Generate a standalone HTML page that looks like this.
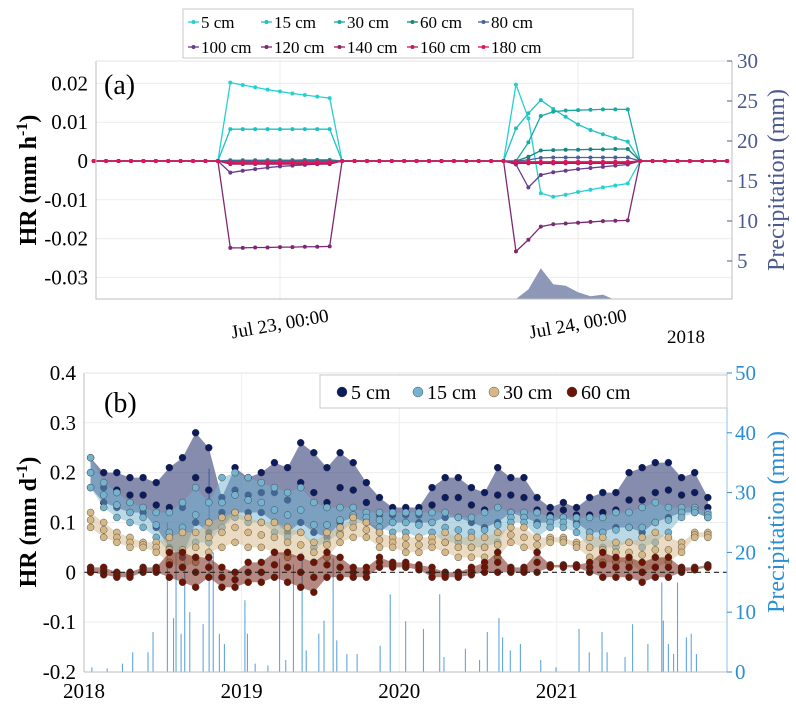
<!DOCTYPE html>
<html><head><meta charset="utf-8"><style>
body{margin:0;background:#fff}
svg{display:block;font-family:"Liberation Serif",serif}
</style></head><body>
<svg id="chart" width="796" height="707" viewBox="0 0 796 707" xmlns="http://www.w3.org/2000/svg">
<g id="topPanel"></g>
<g id="botPanel"></g>
</svg>
<script>
// ---------- Panel (a) data ----------
const depthsA = ["5 cm","15 cm","30 cm","60 cm","80 cm","100 cm","120 cm","140 cm","160 cm","180 cm"];
const colorsA = ["#27d0d0","#1fc0c0","#1aa8a2","#17847f","#4d5f98","#6b3a8c","#7c2872","#992060","#c21a5e","#e0145a"];
const ev1Hours = [20,21,22,23,24,25,26,27,28];
const ev2Hours = [43,44,45,46,47,48,49,50,51,52];
const ev1 = [
 [.0202,.0196,.0190,.0184,.0179,.0174,.0170,.0166,.0162],
 [.0082,.0082,.0082,.0082,.0082,.0082,.0082,.0082,.0082],
 [.0001,.0001,.0001,.0002,.0002,.0002,.0003,.0003,.0003],
 [.0002,.0002,.0002,.0002,.0002,.0002,.0002,.0002,.0002],
 [0,0,0,0,0,0,0,0,0],
 [-.0030,-.0025,-.0021,-.0017,-.0014,-.0012,-.0010,-.0008,-.0007],
 [-.0224,-.0224,-.0223,-.0223,-.0222,-.0222,-.0221,-.0221,-.0220],
 [-.0008,-.0008,-.0008,-.0008,-.0008,-.0008,-.0008,-.0008,-.0008],
 [-.0006,-.0006,-.0006,-.0006,-.0006,-.0006,-.0006,-.0006,-.0006],
 [-.0003,-.0003,-.0003,-.0003,-.0003,-.0003,-.0003,-.0003,-.0003]
];
const ev2 = [
 [.0197,.0110,-.0083,-.0092,-.0087,-.0080,-.0074,-.0068,-.0063,-.0058],
 [.0084,.0123,.0157,.0134,.0114,.0094,.0080,.0069,.0059,.0050],
 [0,.0048,.0116,.0127,.0130,.0131,.0132,.0133,.0133,.0133],
 [0,.0011,.0027,.0028,.0029,.0029,.0030,.0030,.0031,.0031],
 [0,.0003,.0008,.0009,.0009,.0009,.0009,.0009,.0009,.0009],
 [-.0009,-.0068,-.0036,-.0029,-.0025,-.0021,-.0018,-.0015,-.0012,-.0009],
 [-.0233,-.0203,-.0169,-.0163,-.0161,-.0159,-.0157,-.0155,-.0154,-.0153],
 [-.0006,-.0006,-.0006,-.0006,-.0006,-.0006,-.0006,-.0006,-.0006,-.0006],
 [-.0004,-.0004,-.0004,-.0004,-.0004,-.0004,-.0004,-.0004,-.0004,-.0004],
 [-.0002,-.0002,-.0002,-.0002,-.0002,-.0002,-.0002,-.0002,-.0002,-.0002]
];
const precipAHours = [43,44,45,46,47,48,49,50,50.8];
const precipAVals = [0,1.45,4.1,2.1,1.9,1.1,0.6,0.8,0];
const yTicksA = [0.02,0.01,0,-0.01,-0.02,-0.03];
const yTickLabelsA = ["0.02","0.01","0","-0.01","-0.02","-0.03"];
const rTicksA = [30,25,20,15,10,5];
const xTicksA = [24,48];
const xTickLabelsA = ["Jul 23, 00:00","Jul 24, 00:00"];

// ---------- Panel (b) data (monthly hi / lo, Jan 2018 - Dec 2021) ----------
const depthsB = ["5 cm","15 cm","30 cm","60 cm"];
const colorsB = ["#0c1a5e","#74b3d0","#d6b886","#6b1406"];
const hi5 = [.23,.20,.20,.19,.19,.18,.21,.23,.28,.25,.15,.21, .19,.20,.22,.21,.26,.24,.21,.24,.22,.18,.15,.13, .13,.13,.17,.19,.19,.17,.16,.21,.19,.19,.15,.13, .14,.13,.15,.16,.16,.20,.21,.22,.22,.19,.20,.15];
const lo5 = [.17,.14,.13,.12,.12,.09,.05,.03,.10,.08,.09,.12, .12,.12,.10,.08,.10,.08,.07,.10,.11,.10,.08,.10, .10,.10,.10,.11,.11,.10,.09,.10,.12,.11,.10,.10, .11,.10,.08,.08,.09,.09,.08,.10,.11,.12,.12,.11];
const hi15 = [.23,.18,.16,.14,.13,.12,.12,.14,.17,.14,.19,.20, .19,.18,.17,.16,.17,.14,.13,.13,.13,.12,.12,.12, .12,.12,.12,.12,.11,.11,.12,.13,.12,.12,.12,.11, .11,.11,.11,.11,.12,.12,.13,.14,.13,.13,.13,.12];
const lo15 = [.17,.13,.11,.10,.09,.07,.04,.04,.06,.06,.09,.11, .10,.10,.08,.07,.08,.05,.06,.08,.10,.10,.09,.08, .08,.07,.08,.06,.06,.05,.05,.06,.10,.10,.07,.09, .09,.08,.05,.05,.05,.06,.05,.06,.08,.11,.12,.11];
const hi30 = [.12,.10,.08,.07,.06,.06,.07,.08,.08,.10,.11,.12, .11,.10,.10,.09,.08,.06,.08,.09,.11,.10,.08,.07, .07,.07,.07,.08,.07,.07,.07,.08,.09,.09,.07,.07, .07,.06,.07,.07,.06,.06,.07,.08,.07,.06,.08,.08];
const lo30 = [.09,.07,.06,.05,.05,.04,.02,.01,.02,.04,.05,.06, .05,.05,.04,.03,.03,.02,.03,.06,.07,.07,.05,.05, .04,.04,.05,.04,.03,.03,.03,.03,.06,.05,.04,.06, .06,.05,.03,.02,.02,.02,.00,.01,.02,.04,.07,.07];
const hi60 = [.01,.01,.00,.00,.01,.01,.04,.04,.03,.03,.01,.00, .02,.02,.04,.04,.03,.02,.04,.03,.01,.01,.03,.02, .02,.015,.01,.00,.00,.01,.02,.04,.01,.01,.04,.015, .015,.015,.02,.04,.03,.03,.02,.03,.03,.01,.01,.015];
const lo60 = [.00,-.005,-.01,-.01,.00,.00,-.01,-.02,-.03,-.01,-.03,-.03, -.02,-.02,-.01,-.02,-.03,-.04,-.01,-.01,-.01,-.01,.01,.01, .01,.005,-.01,-.01,-.01,-.005,.00,.00,.00,.00,.00,.01, .01,.01,.00,-.01,-.01,-.01,-.02,-.01,-.01,.00,.005,.01];
const precipBDates = [2018.529,2018.584,2018.639,2018.794,2018.820,2019.241,2019.329,2019.384,2019.581,2021.666,2021.766,2019.943,2020.257,2020.633,2019.021,2018.438,2019.523,2018.859,2019.037,2021.141,2021.287,2021.481,2021.853,2020.041,2020.154,2018.309,2018.406,2019.733,2019.879,2020.420,2021.578,2020.769,2020.559,2021.206,2021.319,2021.433,2018.568,2018.616,2018.671,2018.756,2018.891,2019.490,2019.604,2019.668,2020.898,2020.995,2018.147,2018.050,2018.244,2019.086,2019.167,2019.280,2019.410,2020.284,2020.510,2020.656,2020.705,2021.676,2021.708,2021.741,2021.822,2021.886];
const precipBVals = [25,20,21,34,20,19,18,20,19,15,15,13,13,9,12,6.7,8.6,6.4,6.4,7.2,6.7,8,6.4,8.5,7.2,3.3,3.3,3,4.4,3.9,4.7,4.7,6.7,3.3,3.3,2.5,9,6.4,10,8,4.7,6.4,5.3,3,2,0.8,0.6,0.8,1.4,1.4,1.1,2,3.6,2.5,2,5.8,3.6,8.6,4.7,3,5.8,3];
const yTicksB = [0.4,0.3,0.2,0.1,0,-0.1,-0.2];
const yTickLabelsB = ["0.4","0.3","0.2","0.1","0","-0.1","-0.2"];
const rTicksB = [50,40,30,20,10,0];
const xTicksB = [2018,2019,2020,2021];

const SVGNS="http://www.w3.org/2000/svg";
function mk(parent,tag,attrs,text){const e=document.createElementNS(SVGNS,tag);for(const k in attrs)e.setAttribute(k,attrs[k]);if(text!==undefined)e.textContent=text;parent.appendChild(e);return e;}

// ---------- Panel (a) ----------
const A={L:96,R:732,T:61,B:299};
const xA=h=>280+(h-24)*12.42;
const yA=v=>161-v*3880;
const pA=p=>301-p*8;
const topG=document.getElementById('topPanel');
yTicksA.forEach(v=>{const g=mk(topG,'line',{x1:A.L,x2:A.R,y1:yA(v),y2:yA(v),stroke:'#ececec','stroke-width':1});

});
xTicksA.forEach(h=>{const g=mk(topG,'line',{x1:xA(h),x2:xA(h),y1:A.T,y2:A.B,stroke:'#ececec','stroke-width':1});

});
let pd='M'+xA(precipAHours[0])+','+pA(0);
precipAHours.forEach((h,i)=>{pd+=' L'+xA(h)+','+Math.min(pA(precipAVals[i]),A.B);});
pd+=' L'+xA(precipAHours[precipAHours.length-1])+','+A.B+' L'+xA(precipAHours[0])+','+A.B+'Z';
const pa=mk(topG,'path',{d:pd,fill:'#8d98b8',stroke:'none'});


const hoursAll=[];for(let h=9;h<=60;h++)hoursAll.push(h);
depthsA.forEach((d,si)=>{
  const vals=hoursAll.map(h=>{let i=ev1Hours.indexOf(h);if(i>=0)return ev1[si][i];i=ev2Hours.indexOf(h);if(i>=0)return ev2[si][i];return 0;});
  const g=mk(topG,'g',{});
  
  
  mk(g,'polyline',{points:hoursAll.map((h,i)=>xA(h)+','+yA(vals[i])).join(' '),fill:'none',stroke:colorsA[si],'stroke-width':1.3});
  hoursAll.forEach((h,i)=>{const c=mk(g,'circle',{cx:xA(h),cy:yA(vals[i]),r:2,fill:colorsA[si]});
  
  });
});
mk(topG,'path',{d:`M${A.L},${A.T} V${A.B} H${A.R} V${A.T}`,fill:'none',stroke:'#bdbdbd','stroke-width':1});
mk(topG,'line',{x1:A.L,x2:A.R,y1:A.T,y2:A.T,stroke:'#e4e4e4'});
yTicksA.forEach((v,i)=>{const t=mk(topG,'text',{x:88,y:yA(v)+7,'text-anchor':'end','font-size':21,fill:'#000'},yTickLabelsA[i]);

});
rTicksA.forEach(v=>{const t=mk(topG,'text',{x:737,y:pA(v)+7,'font-size':21,fill:'#4b5a8f'},String(v));


mk(topG,'line',{x1:A.R-5,x2:A.R,y1:pA(v),y2:pA(v),stroke:'#4b5a8f'});});
xTicksA.forEach((h,i)=>{const t=mk(topG,'text',{x:xA(h),y:330,'text-anchor':'middle','font-size':19,fill:'#000',transform:`rotate(-10 ${xA(h)} 325)`},xTickLabelsA[i]);

});

let e=mk(topG,'text',{x:686,y:343,'text-anchor':'middle','font-size':19},'2018');


e=mk(topG,'text',{x:104,y:94,'font-size':28},'(a)');


e=mk(topG,'text',{x:0,y:0,'font-size':24,'font-weight':'bold',transform:'translate(36 180) rotate(-90)','text-anchor':'middle'});
e.innerHTML='HR (mm h<tspan dy="-9" font-size="16">-1</tspan><tspan dy="9">)</tspan>';


e=mk(topG,'text',{x:0,y:0,'font-size':24,fill:'#4b5a8f',transform:'translate(784 180) rotate(-90)','text-anchor':'middle'},'Precipitation (mm)');


const lgA=mk(topG,'g',{});


mk(lgA,'rect',{x:183,y:9,width:450,height:49,fill:'#fff',stroke:'#c8c8c8'});
const lxA=[188,261,334,407,478];
depthsA.forEach((d,i)=>{const x=lxA[i%5],y=i<5?22:47;
const g=mk(lgA,'g',{});


mk(g,'line',{x1:x,x2:x+11,y1:y,y2:y,stroke:colorsA[i],'stroke-width':1.3});
mk(g,'circle',{cx:x+5.5,cy:y,r:2,fill:colorsA[i]});
mk(g,'text',{x:x+13,y:y+6,'font-size':17},d);});

// ---------- Panel (b) ----------
const Bx={L:84,R:727,T:373,B:672};
const xB=t=>84+(t-2018)*157.6;
const yB=v=>572.3-v*498.3;
const pB=p=>672-p*5.98;
const botG=document.getElementById('botPanel');
yTicksB.forEach(v=>{const g=mk(botG,'line',{x1:Bx.L,x2:Bx.R,y1:yB(v),y2:yB(v),stroke:'#eeeeee'});

});
xTicksB.forEach(t=>{const g=mk(botG,'line',{x1:xB(t),x2:xB(t),y1:Bx.T,y2:Bx.B,stroke:'#eeeeee'});

});
const pg=mk(botG,'g',{});


precipBDates.forEach((t,i)=>{const l=mk(pg,'line',{x1:xB(t),x2:xB(t),y1:pB(0),y2:pB(precipBVals[i]),stroke:'#3a8fd6','stroke-width':1.1,opacity:0.8});

});
const his=[hi5,hi15,hi30,hi60], los=[lo5,lo15,lo30,lo60];
depthsB.forEach((d,si)=>{
  const g=mk(botG,'g',{});
  
  
  const hi=his[si],lo=los[si];
  const ts=hi.map((_,m)=>2018+(m+0.5)/12);
  let dd='M'+ts.map((t,m)=>xB(t)+','+yB(hi[m])).join(' L');
  dd+=' L'+ts.slice().reverse().map((t,k)=>{const m=hi.length-1-k;return xB(t)+','+yB(lo[m]);}).join(' L')+'Z';
  mk(g,'path',{d:dd,fill:colorsB[si],opacity:0.5});
  ts.forEach((t,m)=>{[hi[m],(hi[m]+lo[m])/2,lo[m]].forEach(v=>{
    const c=mk(g,'circle',{cx:xB(t),cy:yB(v),r:3.5,fill:colorsB[si],stroke:'#333','stroke-width':0.4});
    
    });});
});
mk(botG,'line',{x1:Bx.L,x2:Bx.R,y1:yB(0),y2:yB(0),stroke:'#222','stroke-width':1.2,'stroke-dasharray':'5,4'});
mk(botG,'line',{x1:Bx.L,x2:Bx.L,y1:Bx.T,y2:Bx.B,stroke:'#bdbdbd'});
mk(botG,'line',{x1:Bx.L,x2:Bx.R,y1:Bx.B,y2:Bx.B,stroke:'#bdbdbd'});
mk(botG,'line',{x1:Bx.R,x2:Bx.R,y1:Bx.T,y2:Bx.B,stroke:'#8fc2ea'});
mk(botG,'line',{x1:Bx.L,x2:Bx.R,y1:Bx.T,y2:Bx.T,stroke:'#e4e4e4'});
yTicksB.forEach((v,i)=>{const t=mk(botG,'text',{x:76,y:yB(v)+7,'text-anchor':'end','font-size':21},yTickLabelsB[i]);

});
rTicksB.forEach(v=>{const t=mk(botG,'text',{x:735,y:pB(v)+7,'font-size':21,fill:'#2b8fd4'},String(v));


mk(botG,'line',{x1:Bx.R,x2:Bx.R+5,y1:pB(v),y2:pB(v),stroke:'#2b8fd4'});});
xTicksB.forEach(t=>{const el=mk(botG,'text',{x:xB(t),y:698,'text-anchor':'middle','font-size':21},String(t));

});
e=mk(botG,'text',{x:104,y:412,'font-size':28},'(b)');


e=mk(botG,'text',{x:0,y:0,'font-size':24,'font-weight':'bold',transform:'translate(36 522) rotate(-90)','text-anchor':'middle'});
e.innerHTML='HR (mm d<tspan dy="-9" font-size="16">-1</tspan><tspan dy="9">)</tspan>';


e=mk(botG,'text',{x:0,y:0,'font-size':24,fill:'#2b8fd4',transform:'translate(784 522) rotate(-90)','text-anchor':'middle'},'Precipitation (mm)');


const lgB=mk(botG,'g',{});


mk(lgB,'rect',{x:320,y:375,width:407,height:33,fill:'#fff',stroke:'#c8c8c8'});
const lxB=[342,418,494,572];
depthsB.forEach((d,i)=>{const g=mk(lgB,'g',{});


mk(g,'circle',{cx:lxB[i],cy:392,r:5,fill:colorsB[i],stroke:'#333','stroke-width':0.4});
mk(g,'text',{x:lxB[i]+9,y:399,'font-size':20},d);});
</script>
</body></html>
